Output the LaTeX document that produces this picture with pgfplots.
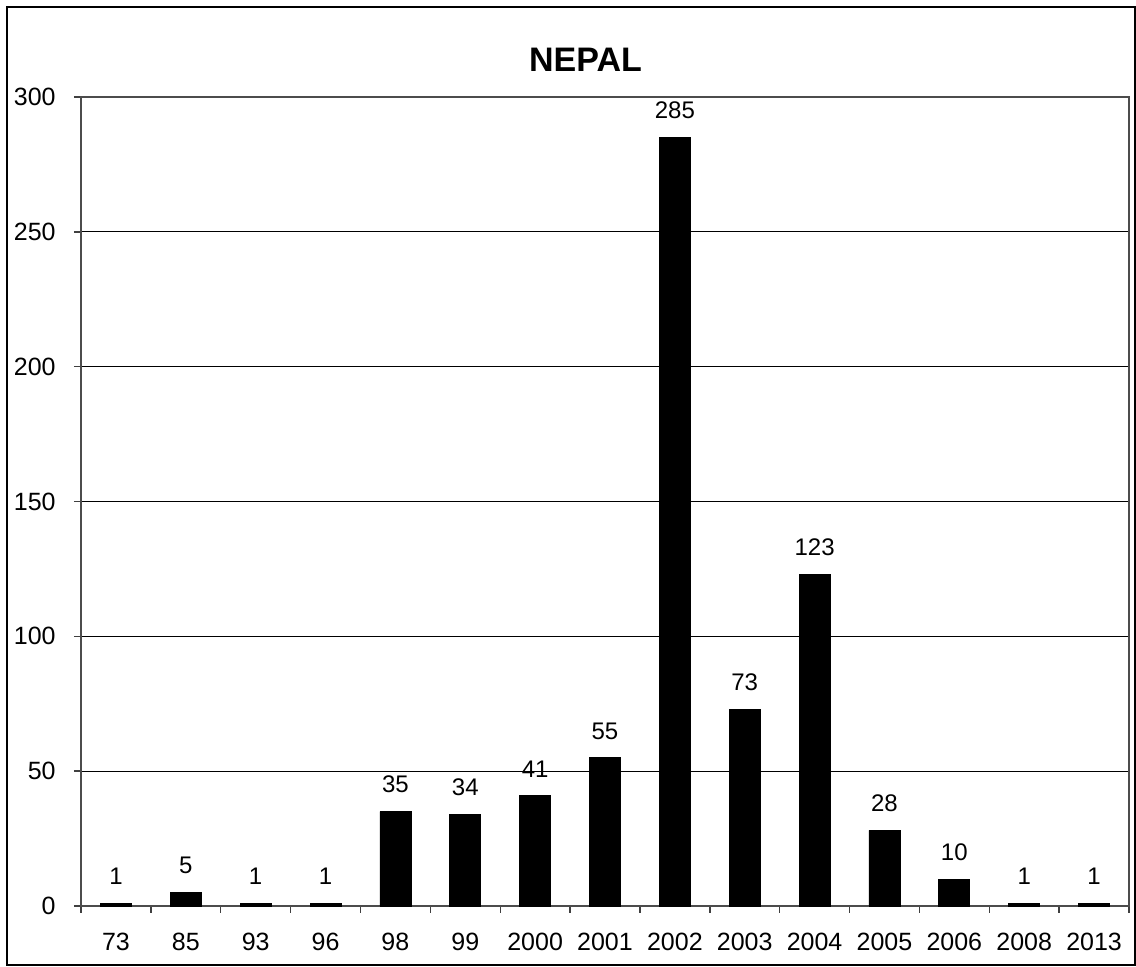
\documentclass[border=0pt]{standalone}
\usepackage{fontspec}
\setmainfont{Liberation Sans}
\usepackage{pgfplots}
\pgfplotsset{compat=1.18}
\begin{document}
\begin{tikzpicture}[x=1pt,y=1pt]
\useasboundingbox (-40.5,-30.5) rectangle (527.5,453);
\fill[white] (-40.5,-30.5) rectangle (527.5,453);
\draw[line width=1pt] (-37,-29.5) rectangle (527,449.5);
\begin{axis}[
  at={(0,0)}, anchor=south west,
  scale only axis, width=524pt, height=404.5pt,
  xmin=-0.5, xmax=14.5, ymin=0, ymax=300,
  xtick={0,...,14},
  xticklabels={73,85,93,96,98,99,2000,2001,2002,2003,2004,2005,2006,2008,2013},
  minor xtick={-0.5,0.5,...,14.5},
  ytick={0,50,...,300},
  xtick pos=bottom, ytick pos=left,
  tick align=outside,
  major x tick style={draw=none},
  minor x tick style={black!75, line width=0.7pt},
  major y tick style={black!75, line width=0.7pt},
  major tick length=3.5pt, minor tick length=3.5pt,
  ymajorgrids, major grid style={black, line width=0.5pt},
  axis line style={black!70, line width=0.8pt},
  x tick label style={font=\fontsize{12.5}{14}\selectfont, inner sep=0pt, anchor=center, yshift=-14.25pt},
  y tick label style={font=\fontsize{12.5}{14}\selectfont, inner sep=0pt, anchor=east, xshift=-9pt},
  /pgf/number format/assume math mode=true,
  ybar, bar width=15.5pt, bar shift=0pt,
  nodes near coords,
  nodes near coords style={font=\fontsize{12}{14}\selectfont, inner sep=0pt, anchor=south, yshift=9pt},
  clip=false,
]
\addplot[fill=black, draw=black] coordinates {
(0,1) (1,5) (2,1) (3,1) (4,35) (5,34) (6,41) (7,55) (8,285) (9,73) (10,123) (11,28) (12,10) (13,1) (14,1)
};
\end{axis}
\node[font=\bfseries\fontsize{17}{20}\selectfont, inner sep=0pt] at (252.25,423) {NEPAL};
\end{tikzpicture}
\end{document}
